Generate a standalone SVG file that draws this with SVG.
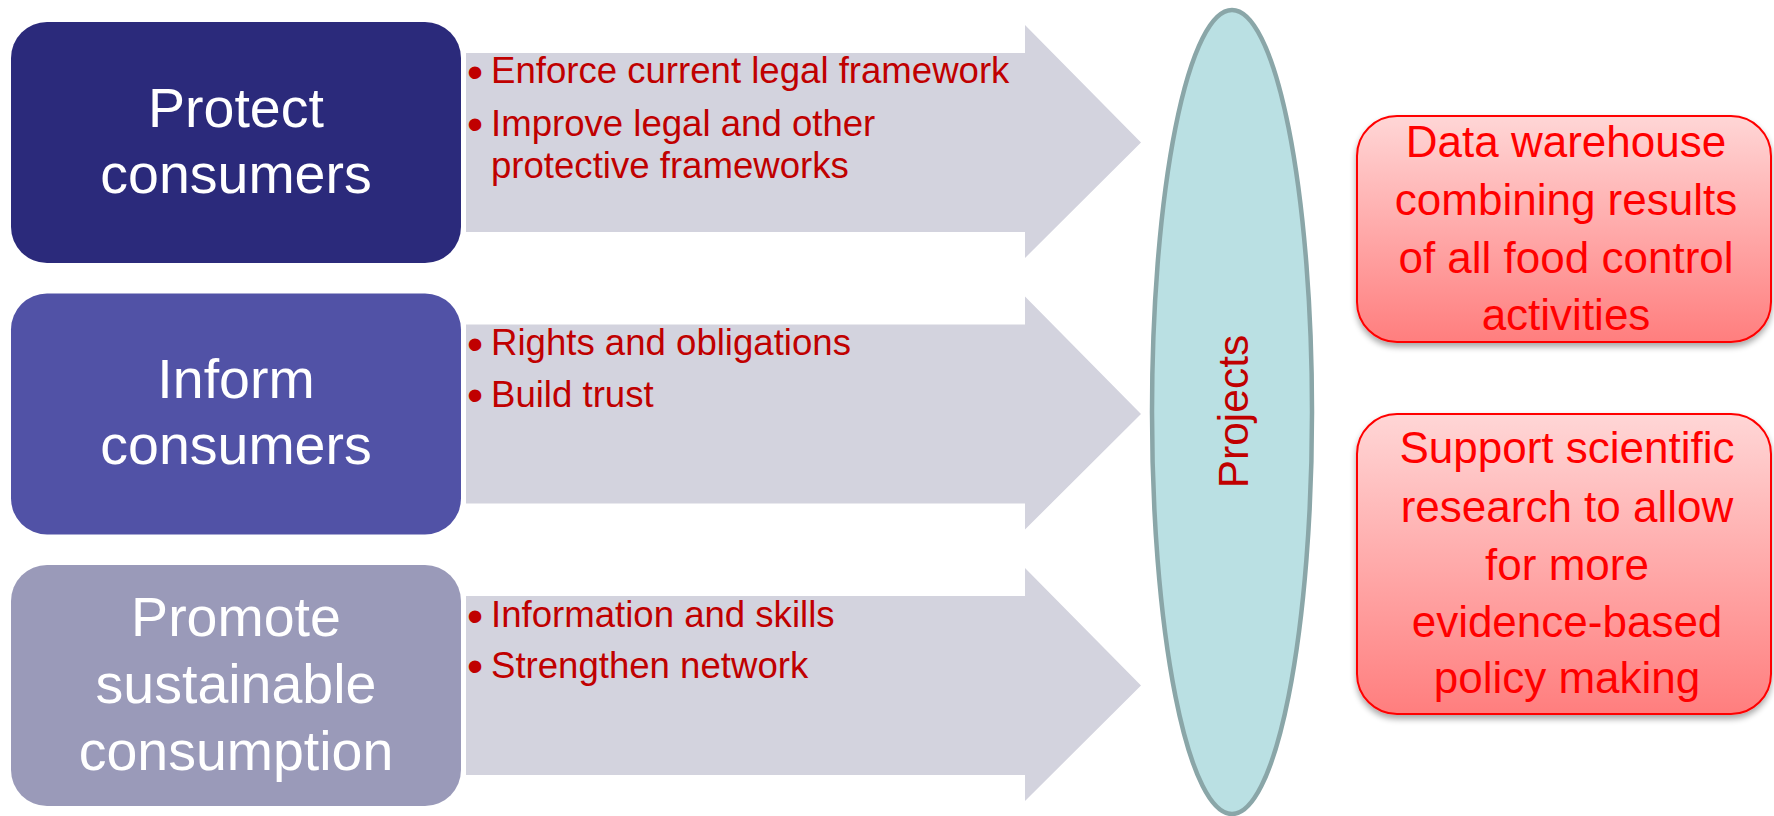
<svg xmlns="http://www.w3.org/2000/svg" width="1774" height="816" viewBox="0 0 1774 816">
  <defs>
    <linearGradient id="redGrad" x1="0" y1="0" x2="0" y2="1">
      <stop offset="0" stop-color="#FFD6D6"/>
      <stop offset="1" stop-color="#FF7E7E"/>
    </linearGradient>
    <filter id="shadow" x="-10%" y="-10%" width="120%" height="125%">
      <feGaussianBlur in="SourceAlpha" stdDeviation="3"/>
      <feOffset dx="0" dy="4" result="b"/>
      <feComponentTransfer><feFuncA type="linear" slope="0.35"/></feComponentTransfer>
      <feMerge><feMergeNode/><feMergeNode in="SourceGraphic"/></feMerge>
    </filter>
  </defs>
  <style>
    .goal { font-family: "Liberation Sans", Arial, sans-serif; font-size: 55.5px; fill: #FFFFFF; text-anchor: middle; }
    .arrow { fill: #D3D3DE; }
    .bul { font-family: "Liberation Sans", Arial, sans-serif; font-size: 36.6px; fill: #C00000; }
    .dot { font-family: "Liberation Sans", Arial, sans-serif; font-size: 46px; fill: #C00000; }
    .out { fill: url(#redGrad); stroke: #FF0000; stroke-width: 2; }
    .outt { font-family: "Liberation Sans", Arial, sans-serif; font-size: 44px; fill: #FF0000; text-anchor: middle; }
  </style>
  <rect width="1774" height="816" fill="#FFFFFF"/>

  <g id="connectors">
    <g id="arrow-protect">
      <path class="arrow" d="M466,53 H1025 V25 L1141,142.5 L1025,258 V232 H466 Z"/>
      <text class="dot" x="467" y="88">•</text>
      <text class="bul" x="491" y="83">Enforce current legal framework</text>
      <text class="dot" x="467" y="140">•</text>
      <text class="bul" x="491" y="136">Improve legal and other</text>
      <text class="bul" x="491" y="178">protective frameworks</text>
    </g>
    <g id="arrow-inform">
      <path class="arrow" d="M466,324.5 H1025 V296.5 L1141,414 L1025,529.5 V503.5 H466 Z"/>
      <text class="dot" x="467" y="360">•</text>
      <text class="bul" x="491" y="355">Rights and obligations</text>
      <text class="dot" x="467" y="411">•</text>
      <text class="bul" x="491" y="407">Build trust</text>
    </g>
    <g id="arrow-promote">
      <path class="arrow" d="M466,596 H1025 V568 L1141,685.5 L1025,801 V775 H466 Z"/>
      <text class="dot" x="467" y="632">•</text>
      <text class="bul" x="491" y="627">Information and skills</text>
      <text class="dot" x="467" y="682">•</text>
      <text class="bul" x="491" y="678">Strengthen network</text>
    </g>
  </g>

  <g id="protect">
    <rect x="11" y="22" width="450" height="241" rx="36" ry="36" fill="#2B2A7B"/>
    <text class="goal" x="236" y="127">Protect</text>
    <text class="goal" x="236" y="193">consumers</text>
  </g>
  <g id="inform">
    <rect x="11" y="293.5" width="450" height="241" rx="36" ry="36" fill="#5152A6"/>
    <text class="goal" x="236" y="398">Inform</text>
    <text class="goal" x="236" y="464">consumers</text>
  </g>
  <g id="promote">
    <rect x="11" y="565" width="450" height="241" rx="36" ry="36" fill="#9A9AB9"/>
    <text class="goal" x="236" y="636">Promote</text>
    <text class="goal" x="236" y="703">sustainable</text>
    <text class="goal" x="236" y="770">consumption</text>
  </g>

  <g id="projects">
    <ellipse cx="1232" cy="412" rx="80" ry="402" fill="#BAE0E3" stroke="#8AA6A8" stroke-width="4.5"/>
    <text transform="translate(1248,411.5) rotate(-90)" x="0" y="0" text-anchor="middle" font-family="Liberation Sans, Arial, sans-serif" font-size="42.5" fill="#C00000">Projects</text>
  </g>

  <g id="data-warehouse">
    <rect class="out" x="1357" y="116" width="414" height="226" rx="40" ry="40" filter="url(#shadow)"/>
    <text class="outt" x="1566" y="157">Data warehouse</text>
    <text class="outt" x="1566" y="215">combining results</text>
    <text class="outt" x="1566" y="273">of all food control</text>
    <text class="outt" x="1566" y="330">activities</text>
  </g>
  <g id="support-research">
    <rect class="out" x="1357" y="414" width="414" height="300" rx="40" ry="40" filter="url(#shadow)"/>
    <text class="outt" x="1567" y="463">Support scientific</text>
    <text class="outt" x="1567" y="522">research to allow</text>
    <text class="outt" x="1567" y="580">for more</text>
    <text class="outt" x="1567" y="637">evidence-based</text>
    <text class="outt" x="1567" y="693">policy making</text>
  </g>
</svg>
